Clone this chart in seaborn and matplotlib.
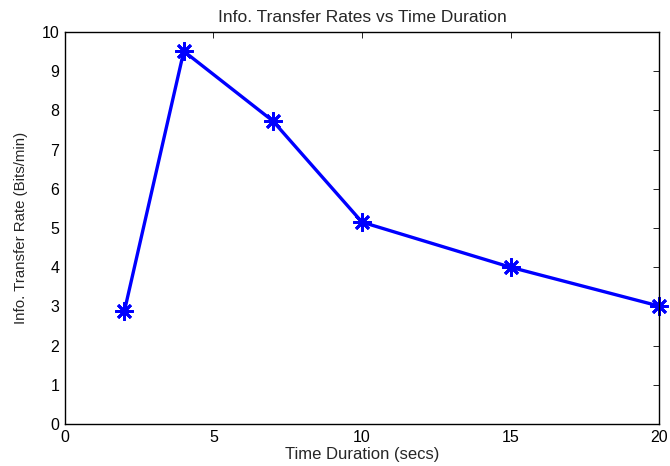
import matplotlib
matplotlib.use("Agg")
import matplotlib.pyplot as plt
import seaborn as sns
import pandas as pd

durations = [2, 4, 7, 10, 15, 20]
rates = [2.88, 9.51, 7.73, 5.15, 4.0, 3.01]
xticks = [0, 5, 10, 15, 20]
yticks = list(range(0, 11))

sns.set_theme(style="white")
plt.rcParams['font.family'] = ['Liberation Sans', 'DejaVu Sans']

df = pd.DataFrame({"Time Duration (secs)": durations, "Info. Transfer Rate (Bits/min)": rates})

fig = plt.figure(figsize=(6.7, 4.66), dpi=100)
ax = fig.add_axes([0.097, 0.0901, 0.8866, 0.8412])
sns.lineplot(data=df, x="Time Duration (secs)", y="Info. Transfer Rate (Bits/min)", ax=ax,
             color=(0, 0, 1), linewidth=2.4, marker=(8, 2, 0), markersize=13,
             markeredgecolor=(0, 0, 1), markeredgewidth=2.0, clip_on=False)
ax.set_xlim(0, 20)
ax.set_ylim(0, 10)
ax.set_xticks(xticks)
ax.set_yticks(yticks)
ax.tick_params(direction="in", length=4, width=0.6, top=True, right=True, labelsize=11.5,
               colors="black", pad=4)
for s in ax.spines.values():
    s.set_color("black")
    s.set_linewidth(1.0)
ax.set_title("Info. Transfer Rates vs Time Duration", fontsize=12.5, pad=7)
ax.set_xlabel("Time Duration (secs)", fontsize=12, labelpad=2)
ax.set_ylabel("Info. Transfer Rate (Bits/min)", fontsize=10.8, labelpad=10)
fig.savefig("out.png", dpi=100)
